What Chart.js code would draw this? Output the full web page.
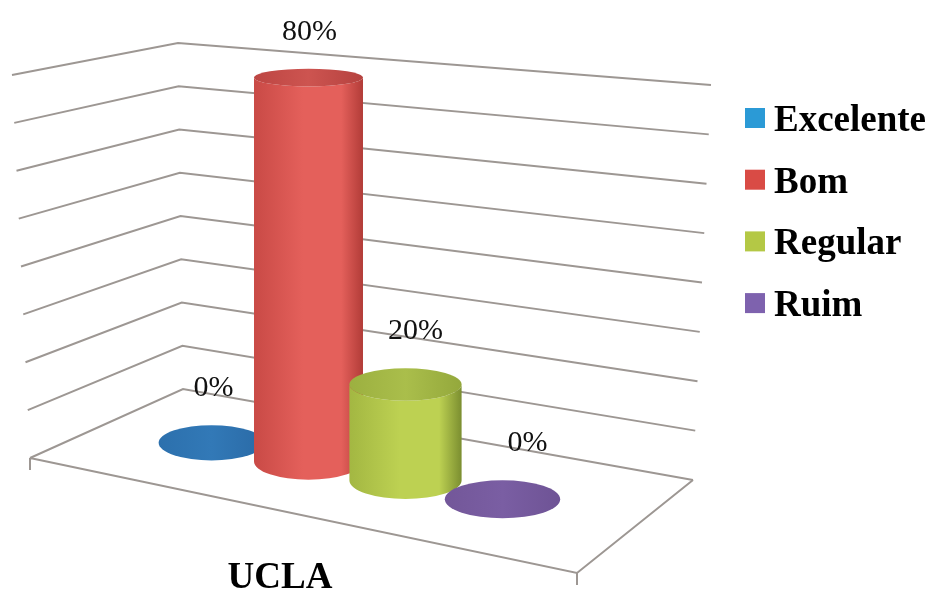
<!DOCTYPE html>
<html lang="pt">
<head>
  <meta charset="UTF-8">
  <title>UCLA</title>
  <script src="https://cdn.jsdelivr.net/npm/chart.js"></script>
  <style>
    html, body { margin: 0; padding: 0; background: #fff; }
    #wrap { width: 934px; height: 592px; }
  </style>
</head>
<body>
  <div id="wrap"><canvas id="chart"></canvas></div>

  <script>
    // dados
    const categories = ['UCLA'];
    const seriesNames = ['Excelente', 'Bom', 'Regular', 'Ruim'];
    const seriesValues = [0, 80, 20, 0];
    const yMax = 80;
    const yStep = 10;

    // estilo
    const legendColors = ['#2b9ad6', '#d94b45', '#b4c845', '#7e62ae'];
    const shades = [
      { left: '#2a6fab', mid: '#3079b8', right: '#27679f', top: ['#2c70ad', '#3279b7', '#2a6aa6'] },
      { left: '#c94a46', mid: '#e4605b', right: '#b23c38', top: ['#bd4643', '#cd5450', '#b5423f'] },
      { left: '#a3b742', mid: '#bdd152', right: '#7b8e30', top: ['#9cb040', '#aabe4b', '#94a83c'] },
      { left: '#6f5497', mid: '#7a5ea3', right: '#654c8c', top: ['#735799', '#7a5ea3', '#6e5395'] }
    ];
    const labelDx = [2, 1, 10, 25];

    // moldura 3D: paredes e piso
    const frame = {
      leftB: [30, 458], leftT: [12, 75],
      cornerB: [183, 389], cornerT: [178, 43],
      rightB: [693, 480], rightT: [711, 85],
      front: [577, 573]
    };
    const tilt = 0.194;

    const lerp = (a, b, t) => [a[0] + (b[0] - a[0]) * t, a[1] + (b[1] - a[1]) * t];

    const cylinders = {
      id: 'cylinders',
      beforeDatasetsDraw(chart) {
        const ctx = chart.ctx;
        const y = chart.scales.y;
        const area = chart.chartArea;
        const cx = (area.left + area.right) / 2;
        const y0 = y.getPixelForValue(0);
        const y1 = y.getPixelForValue(yMax);

        ctx.save();
        // grade
        ctx.strokeStyle = '#9d9793';
        ctx.lineWidth = 2;
        ctx.lineJoin = 'miter';
        y.ticks.forEach(tk => {
          const t = (y0 - y.getPixelForValue(tk.value)) / (y0 - y1);
          const L = lerp(frame.leftB, frame.leftT, t);
          const C = lerp(frame.cornerB, frame.cornerT, t);
          const R = lerp(frame.rightB, frame.rightT, t);
          ctx.beginPath();
          ctx.moveTo(L[0], L[1]);
          ctx.lineTo(C[0], C[1]);
          ctx.lineTo(R[0], R[1]);
          ctx.stroke();
        });
        // piso
        ctx.beginPath();
        ctx.moveTo(frame.leftB[0], frame.leftB[1]);
        ctx.lineTo(frame.front[0], frame.front[1]);
        ctx.lineTo(frame.rightB[0], frame.rightB[1]);
        ctx.moveTo(frame.leftB[0], frame.leftB[1]);
        ctx.lineTo(frame.leftB[0], frame.leftB[1] + 12);
        ctx.moveTo(frame.front[0], frame.front[1]);
        ctx.lineTo(frame.front[0], frame.front[1] + 12);
        ctx.stroke();

        // cilindros
        chart.data.datasets.forEach((ds, i) => {
          const bar = chart.getDatasetMeta(i).data[0];
          const shift = tilt * (bar.x - cx);
          const base = y0 + shift;
          const top = bar.y + shift;
          const rx = bar.width * 0.57 * (1 + 0.0003 * (bar.x - cx));
          const ryB = 7 + 0.024 * base;
          const ryT = 7 + 0.024 * top;
          const sh = shades[i];

          if (base - top > 1) {
            const g = ctx.createLinearGradient(bar.x - rx, 0, bar.x + rx, 0);
            g.addColorStop(0, sh.left);
            g.addColorStop(0.45, sh.mid);
            g.addColorStop(0.8, sh.mid);
            g.addColorStop(1, sh.right);
            ctx.fillStyle = g;
            ctx.beginPath();
            ctx.moveTo(bar.x - rx, top);
            ctx.lineTo(bar.x - rx, base);
            ctx.ellipse(bar.x, base, rx, ryB, 0, Math.PI, 0, true);
            ctx.lineTo(bar.x + rx, top);
            ctx.ellipse(bar.x, top, rx, ryT, 0, 0, Math.PI, false);
            ctx.closePath();
            ctx.fill();
          }
          const gt = ctx.createLinearGradient(bar.x - rx, 0, bar.x + rx, 0);
          gt.addColorStop(0, sh.top[0]);
          gt.addColorStop(0.5, sh.top[1]);
          gt.addColorStop(1, sh.top[2]);
          ctx.fillStyle = gt;
          ctx.beginPath();
          ctx.ellipse(bar.x, top, rx, ryT, 0, 0, Math.PI * 2);
          ctx.fill();

          // rótulo
          ctx.fillStyle = '#111';
          ctx.font = '30px "Liberation Serif", serif';
          ctx.textAlign = 'center';
          ctx.textBaseline = 'middle';
          ctx.fillText(ds.data[0] + '%', bar.x + labelDx[i], top - ryT - 37);
        });
        ctx.restore();
        return false;
      },
      afterDraw(chart) {
        // legenda
        const ctx = chart.ctx;
        ctx.save();
        ctx.font = 'bold 37px "Liberation Serif", serif';
        ctx.textAlign = 'left';
        ctx.textBaseline = 'alphabetic';
        chart.data.datasets.forEach((ds, i) => {
          const yy = 108 + i * 61.7;
          ctx.fillStyle = ds.backgroundColor;
          ctx.fillRect(745, yy, 20, 20);
          ctx.fillStyle = '#000';
          ctx.fillText(ds.label, 774, yy + 23);
        });
        ctx.restore();
      }
    };

    const ctx = document.getElementById('chart').getContext('2d');
    const chart = new Chart(ctx, {
      type: 'bar',
      data: {
        labels: categories,
        datasets: seriesNames.map((name, i) => ({
          label: name,
          data: [seriesValues[i]],
          backgroundColor: legendColors[i]
        }))
      },
      options: {
        responsive: true,
        maintainAspectRatio: false,
        animation: false,
        categoryPercentage: 1,
        barPercentage: 1,
        layout: { padding: { left: 163, right: 383, top: 87, bottom: 0 } },
        plugins: {
          legend: { display: false },
          tooltip: { enabled: false }
        },
        scales: {
          x: {
            grid: { display: false, drawTicks: false },
            border: { display: false },
            ticks: {
              color: '#000',
              font: { family: '"Liberation Serif", serif', size: 37, weight: 'bold' },
              padding: 85,
              labelOffset: -77
            },
            afterFit(scale) { scale.height = 121; }
          },
          y: {
            min: 0,
            max: yMax,
            ticks: { stepSize: yStep, display: false },
            grid: { display: false, drawTicks: false },
            border: { display: false }
          }
        }
      },
      plugins: [cylinders]
    });
  </script>
</body>
</html>
